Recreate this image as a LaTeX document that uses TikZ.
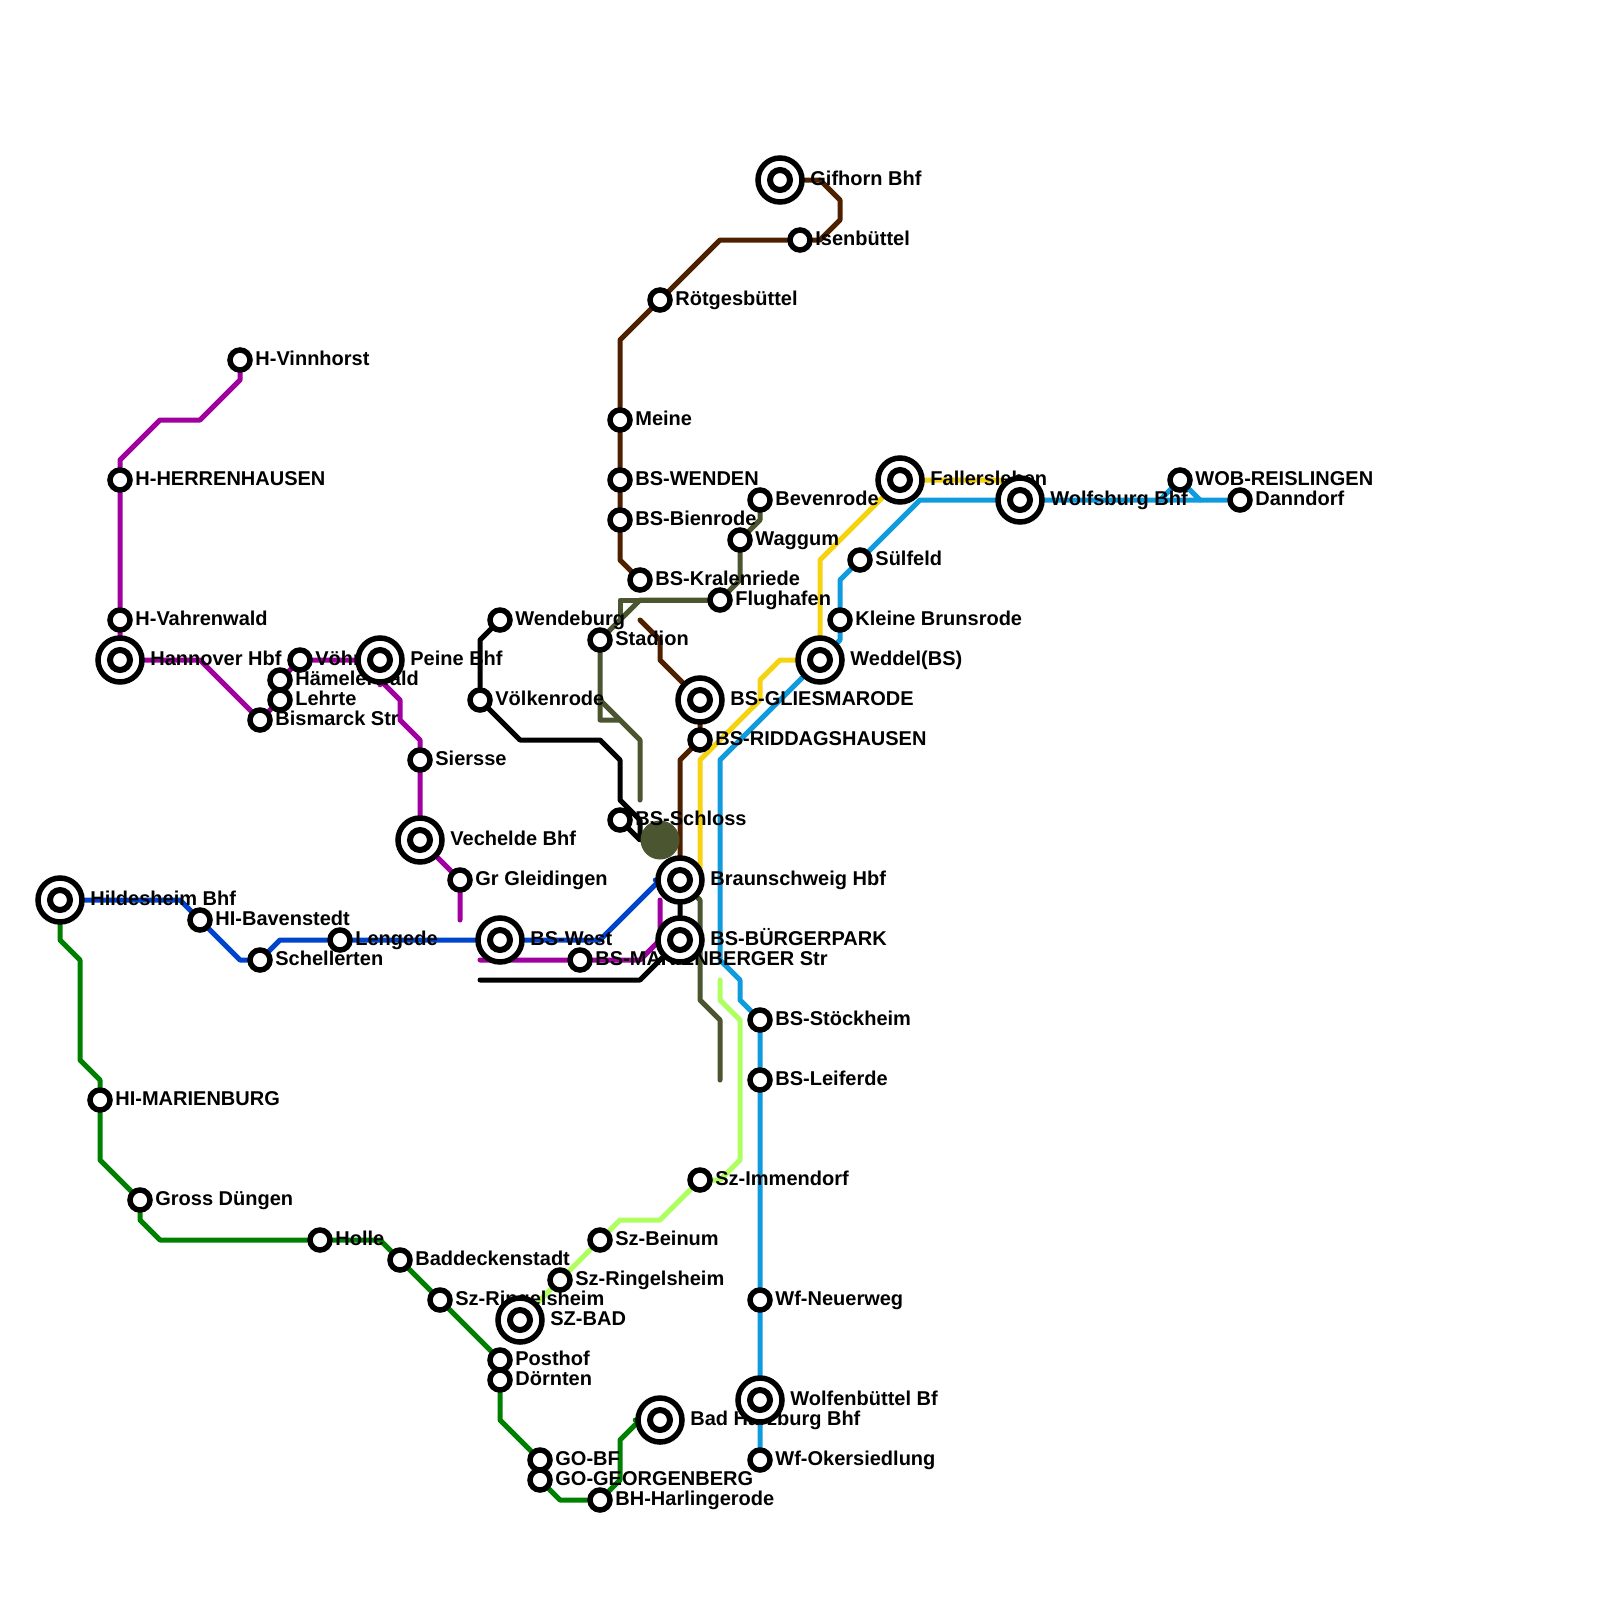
\documentclass[tikz,border=0pt]{standalone}
\usepackage{fontspec}
\setmainfont{Liberation Sans}
\definecolor{linepurple}{HTML}{A000A0}
\definecolor{lineblue}{HTML}{0044CC}
\definecolor{linegreen}{HTML}{008000}
\definecolor{lineolive}{HTML}{4B5530}
\definecolor{linebrown}{HTML}{4F2000}
\definecolor{lineyellow}{HTML}{F5D310}
\definecolor{linecyan}{HTML}{0F9BDD}
\definecolor{linelime}{HTML}{AFFF60}
\pgfdeclarelayer{lines}
\pgfdeclarelayer{labels}
\pgfsetlayers{lines,labels,main}
\tikzset{
	track/.style={line width=2.5pt, line cap=round, line join=round},
	stn/.style={circle, draw=black, fill=white, line width=2.75pt, minimum size=10pt, inner sep=0pt},
	hub/.style={circle, draw=black, fill=white, line width=2.75pt, minimum size=22pt, inner sep=0pt},
	hubin/.style={circle, draw=black, fill=white, line width=3pt, minimum size=10pt, inner sep=0pt},
	lbl/.style={anchor=base west, font=\bfseries\fontsize{10}{12}\selectfont, text=black, inner sep=0pt, xshift=7.5pt, yshift=-2.9pt},
	lblhub/.style={lbl, xshift=7.5pt},
}
\begin{document}
\begin{tikzpicture}[x=0.5pt, y=-0.5pt]
	\useasboundingbox (0,0) rectangle (1600,1600);
	
	% hannover side
	\node[stn] (vinnhorst) at (240,360) {};
	\node[stn] (herrenhausen) at (120,480) {};
	\node[stn] (vahrenwald) at (120,620) {};
	\node[hub] (hannover) at (120,660) {};
	\node[hubin] (hannoverin) at (hannover) {};
	\node[stn] (bismarck) at (260,720) {};
	\node[stn] (lehrte) at (280,700) {};
	\node[stn] (haemelerwald) at (280,680) {};
	\node[stn] (voehrum) at (300,660) {};
	\node[hub] (peine) at (380,660) {};
	\node[hubin] (peinein) at (peine) {};
	\node[stn] (siersse) at (420,760) {};
	\node[hub] (vechelde) at (420,840) {};
	\node[hubin] (vecheldein) at (vechelde) {};
	\node[stn] (gleidingen) at (460,880) {};
	
	% hildesheim side
	\node[hub] (hildesheim) at (60,900) {};
	\node[hubin] (hildesheimin) at (hildesheim) {};
	\node[stn] (bavenstedt) at (200,920) {};
	\node[stn] (schellerten) at (260,960) {};
	\node[stn] (lengede) at (340,940) {};
	\node[hub] (bswest) at (500,940) {};
	\node[hubin] (bswestin) at (bswest) {};
	\node[stn] (marienberger) at (580,960) {};
	\node[stn] (marienburg) at (100,1100) {};
	\node[stn] (duengen) at (140,1200) {};
	\node[stn] (holle) at (320,1240) {};
	\node[stn] (baddeckenstadt) at (400,1260) {};
	\node[stn] (ringelsheimw) at (440,1300) {};
	\node[stn] (posthof) at (500,1360) {};
	\node[stn] (doernten) at (500,1380) {};
	\node[stn] (gobf) at (540,1460) {};
	\node[stn] (georgenberg) at (540,1480) {};
	\node[stn] (harlingerode) at (600,1500) {};
	\node[hub] (harzburg) at (660,1420) {};
	\node[hubin] (harzburgin) at (harzburg) {};
	
	% north
	\node[hub] (gifhorn) at (780,180) {};
	\node[hubin] (gifhornin) at (gifhorn) {};
	\node[stn] (isenbuettel) at (800,240) {};
	\node[stn] (roetgesbuettel) at (660,300) {};
	\node[stn] (meine) at (620,420) {};
	\node[stn] (wenden) at (620,480) {};
	\node[stn] (bienrode) at (620,520) {};
	\node[stn] (kralenriede) at (640,580) {};
	\node[stn] (bevenrode) at (760,500) {};
	\node[stn] (waggum) at (740,540) {};
	\node[stn] (flughafen) at (720,600) {};
	\node[stn] (stadion) at (600,640) {};
	\node[stn] (wendeburg) at (500,620) {};
	\node[stn] (voelkenrode) at (480,700) {};
	\node[stn] (schloss) at (620,820) {};
	
	% centre
	\node[hub] (gliesmarode) at (700,700) {};
	\node[hubin] (gliesmarodein) at (gliesmarode) {};
	\node[stn] (riddagshausen) at (700,740) {};
	\node[hub] (bshbf) at (680,880) {};
	\node[hubin] (bshbfin) at (bshbf) {};
	\node[hub] (buergerpark) at (680,940) {};
	\node[hubin] (buergerparkin) at (buergerpark) {};
	
	% east
	\node[hub] (fallersleben) at (900,480) {};
	\node[hubin] (fallerslebenin) at (fallersleben) {};
	\node[hub] (wolfsburg) at (1020,500) {};
	\node[hubin] (wolfsburgin) at (wolfsburg) {};
	\node[stn] (reislingen) at (1180,480) {};
	\node[stn] (danndorf) at (1240,500) {};
	\node[stn] (suelfeld) at (860,560) {};
	\node[stn] (brunsrode) at (840,620) {};
	\node[hub] (weddel) at (820,660) {};
	\node[hubin] (weddelin) at (weddel) {};
	
	% south
	\node[stn] (stoeckheim) at (760,1020) {};
	\node[stn] (leiferde) at (760,1080) {};
	\node[stn] (immendorf) at (700,1180) {};
	\node[stn] (beinum) at (600,1240) {};
	\node[stn] (ringelsheime) at (560,1280) {};
	\node[hub] (szbad) at (520,1320) {};
	\node[hubin] (szbadin) at (szbad) {};
	\node[stn] (neuerweg) at (760,1300) {};
	\node[hub] (wolfenbuettel) at (760,1400) {};
	\node[hubin] (wolfenbuettelin) at (wolfenbuettel) {};
	\node[stn] (okersiedlung) at (760,1460) {};
	
	\begin{pgfonlayer}{lines}
		\draw[track, linepurple] (vinnhorst) -- (240,380) -- (200,420) -- (160,420) -- (120,460) -- (herrenhausen) -- (vahrenwald) -- (hannover);
		\draw[track, linepurple] (hannover) -- (200,660) -- (bismarck) -- (lehrte) -- (haemelerwald) -- (voehrum) -- (peine);
		\draw[track, linepurple] (peine) -- (380,680) -- (400,700) -- (400,720) -- (420,740) -- (siersse) -- (vechelde) -- (gleidingen) -- (460,920);
		\draw[track, linepurple] (480,960) -- (marienberger) -- (640,960) -- (660,940) -- (660,900);
		
		\draw[track, lineblue] (hildesheim) -- (180,900) -- (bavenstedt) -- (240,960) -- (schellerten) -- (280,940) -- (lengede) -- (bswest) -- (600,940) -- (660,880) -- (bshbf);
		
		\draw[track, linegreen] (hildesheim) -- (60,940) -- (80,960) -- (80,1060) -- (100,1080) -- (marienburg) -- (100,1160) -- (duengen) -- (140,1220) -- (160,1240) -- (holle) -- (380,1240) -- (baddeckenstadt) -- (ringelsheimw) -- (posthof) -- (doernten) -- (500,1420) -- (gobf) -- (georgenberg) -- (560,1500) -- (harlingerode) -- (620,1480) -- (620,1440) -- (640,1420) -- (harzburg);
		
		\draw[track, black] (wendeburg) -- (480,640) -- (voelkenrode) -- (520,740) -- (600,740) -- (620,760) -- (620,800) -- (640,820) -- (640,840) -- (schloss);
		\draw[track, black] (480,980) -- (640,980) -- (buergerpark) -- (bshbf);
		
		\draw[track, lineolive] (bevenrode) -- (760,520) -- (waggum) -- (740,580) -- (flughafen) -- (640,600) -- (stadion) -- (600,720) -- (620,720);
		\draw[track, lineolive] (flughafen) -- (620,600) -- (620,620);
		\draw[track, lineolive] (600,700) -- (640,740) -- (640,800);
		\draw[track, lineolive] (bshbf) -- (700,900) -- (700,1000) -- (720,1020) -- (720,1080);
		
		\draw[track, linebrown] (gifhorn) -- (820,180) -- (840,200) -- (840,220) -- (820,240) -- (isenbuettel) -- (720,240) -- (roetgesbuettel) -- (620,340) -- (meine) -- (wenden) -- (bienrode) -- (620,560) -- (kralenriede);
		\draw[track, linebrown] (640,620) -- (660,640) -- (660,660) -- (gliesmarode) -- (riddagshausen) -- (680,760) -- (bshbf);
		
		\draw[track, lineyellow] (1020,500) -- (1000,480) -- (fallersleben) -- (820,560) -- (weddel) -- (780,660) -- (760,680) -- (760,700) -- (700,760) -- (700,880);
		
		\draw[track, linecyan] (danndorf) -- (wolfsburg) -- (920,500) -- (suelfeld) -- (840,580) -- (brunsrode) -- (840,640) -- (weddel) -- (720,760) -- (720,960) -- (740,980) -- (740,1000) -- (stoeckheim) -- (leiferde) -- (neuerweg) -- (wolfenbuettel) -- (okersiedlung);
		\draw[track, linecyan] (1160,500) -- (reislingen) -- (1200,500);
		
		\draw[track, linelime] (720,980) -- (720,1000) -- (740,1020) -- (740,1160) -- (720,1180) -- (immendorf) -- (660,1220) -- (620,1220) -- (beinum) -- (ringelsheime) -- (szbad);
		
		\node[circle, fill=lineolive, minimum size=19.5pt, inner sep=0pt] (schlossdot) at (660,840) {};
	\end{pgfonlayer}
	
	\begin{pgfonlayer}{labels}
		\node[lbl] (vinnhorstt) at (vinnhorst) {H-Vinnhorst};
		\node[lbl] (herrenhausent) at (herrenhausen) {H-HERRENHAUSEN};
		\node[lbl] (vahrenwaldt) at (vahrenwald) {H-Vahrenwald};
		\node[lblhub] (hannovert) at (hannover) {Hannover Hbf};
		\node[lbl] (bismarckt) at (bismarck) {Bismarck Str};
		\node[lbl] (lehrtet) at (lehrte) {Lehrte};
		\node[lbl] (haemelerwaldt) at (haemelerwald) {Hämelerwald};
		\node[lbl] (voehrumt) at (voehrum) {Vöhrum};
		\node[lblhub] (peinet) at (peine) {Peine Bhf};
		\node[lbl] (sierssET) at (siersse) {Siersse};
		\node[lblhub] (vecheldet) at (vechelde) {Vechelde Bhf};
		\node[lbl] (gleidingent) at (gleidingen) {Gr Gleidingen};
		\node[lblhub] (hildesheimt) at (hildesheim) {Hildesheim Bhf};
		\node[lbl] (bavenstedtt) at (bavenstedt) {HI-Bavenstedt};
		\node[lbl] (schellertent) at (schellerten) {Schellerten};
		\node[lbl] (lengedet) at (lengede) {Lengede};
		\node[lblhub] (bswestt) at (bswest) {BS-West};
		\node[lbl] (marienbergert) at (marienberger) {BS-MARIENBERGER Str};
		\node[lbl] (marienburgt) at (marienburg) {HI-MARIENBURG};
		\node[lbl] (duengent) at (duengen) {Gross Düngen};
		\node[lbl] (hollet) at (holle) {Holle};
		\node[lbl] (baddeckenstadtt) at (baddeckenstadt) {Baddeckenstadt};
		\node[lbl] (ringelsheimwt) at (ringelsheimw) {Sz-Ringelsheim};
		\node[lbl] (posthoft) at (posthof) {Posthof};
		\node[lbl] (doerntent) at (doernten) {Dörnten};
		\node[lbl] (gobft) at (gobf) {GO-BF};
		\node[lbl] (georgenbergt) at (georgenberg) {GO-GEORGENBERG};
		\node[lbl] (harlingerodet) at (harlingerode) {BH-Harlingerode};
		\node[lblhub] (harzburgt) at (harzburg) {Bad Harzburg Bhf};
		\node[lblhub] (gifhornt) at (gifhorn) {Gifhorn Bhf};
		\node[lbl] (isenbuettelt) at (isenbuettel) {Isenbüttel};
		\node[lbl] (roetgesbuettelt) at (roetgesbuettel) {Rötgesbüttel};
		\node[lbl] (meinet) at (meine) {Meine};
		\node[lbl] (wendent) at (wenden) {BS-WENDEN};
		\node[lbl] (bienrodet) at (bienrode) {BS-Bienrode};
		\node[lbl] (kralenriedet) at (kralenriede) {BS-Kralenriede};
		\node[lbl] (bevenrodet) at (bevenrode) {Bevenrode};
		\node[lbl] (waggumt) at (waggum) {Waggum};
		\node[lbl] (flughafent) at (flughafen) {Flughafen};
		\node[lbl] (stadiont) at (stadion) {Stadion};
		\node[lbl] (wendeburgt) at (wendeburg) {Wendeburg};
		\node[lbl] (voelkenrodet) at (voelkenrode) {Völkenrode};
		\node[lbl] (schlosst) at (schloss) {BS-Schloss};
		\node[lblhub] (gliesmarodet) at (gliesmarode) {BS-GLIESMARODE};
		\node[lbl] (riddagshausent) at (riddagshausen) {BS-RIDDAGSHAUSEN};
		\node[lblhub] (bshbft) at (bshbf) {Braunschweig Hbf};
		\node[lblhub] (buergerparkt) at (buergerpark) {BS-BÜRGERPARK};
		\node[lblhub] (fallerslebent) at (fallersleben) {Fallersleben};
		\node[lblhub] (wolfsburgt) at (wolfsburg) {Wolfsburg Bhf};
		\node[lbl] (reislingent) at (reislingen) {WOB-REISLINGEN};
		\node[lbl] (danndorft) at (danndorf) {Danndorf};
		\node[lbl] (suelfeldt) at (suelfeld) {Sülfeld};
		\node[lbl] (brunsrodet) at (brunsrode) {Kleine Brunsrode};
		\node[lblhub] (weddelt) at (weddel) {Weddel(BS)};
		\node[lbl] (stoeckheimt) at (stoeckheim) {BS-Stöckheim};
		\node[lbl] (leiferdet) at (leiferde) {BS-Leiferde};
		\node[lbl] (immendorft) at (immendorf) {Sz-Immendorf};
		\node[lbl] (beinumt) at (beinum) {Sz-Beinum};
		\node[lbl] (ringelsheimet) at (ringelsheime) {Sz-Ringelsheim};
		\node[lblhub] (szbadt) at (szbad) {SZ-BAD};
		\node[lbl] (neuerwegt) at (neuerweg) {Wf-Neuerweg};
		\node[lblhub] (wolfenbuettelt) at (wolfenbuettel) {Wolfenbüttel Bf};
		\node[lbl] (okersiedlungt) at (okersiedlung) {Wf-Okersiedlung};
	\end{pgfonlayer}
\end{tikzpicture}
\end{document}
